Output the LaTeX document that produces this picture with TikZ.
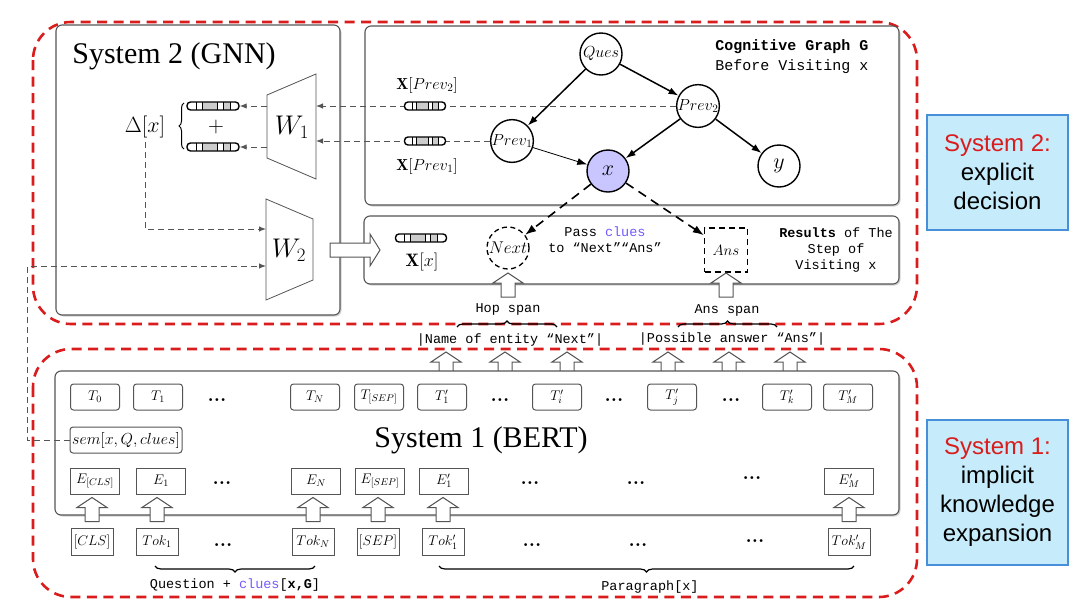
\RequirePackage{fix-cm}
\documentclass[tikz,border=0pt]{standalone}
\usepackage{fontspec}
\setsansfont{Liberation Sans}
\setmonofont{Liberation Mono}
\newfontfamily\titlefont{Liberation Serif}
\usetikzlibrary{positioning,calc,shadows,arrows.meta,decorations.pathreplacing}

\definecolor{sysred}{RGB}{218,28,28}
\definecolor{cluecol}{RGB}{118,88,255}
\definecolor{xfill}{RGB}{201,197,255}
\definecolor{tagfill}{RGB}{198,236,251}
\definecolor{tagline}{RGB}{72,143,218}
\definecolor{frame}{RGB}{85,85,85}

\newcommand{\fsz}[1]{\fontsize{#1}{#1}\selectfont}

\tikzset{
  sysbox/.style={draw=sysred, line width=2.6pt, dash pattern=on 10pt off 6.5pt, rounded corners=38pt},
  panel/.style={draw=frame, line width=1.1pt, fill=white, rounded corners=6pt,
    drop shadow={opacity=0.35, shadow xshift=1.5pt, shadow yshift=-1.5pt}},
  title/.style={font=\fsz{30}\titlefont},
  gnode/.style={circle, draw, line width=1.4pt, fill=white, minimum size=42pt, inner sep=0pt, font=\fsz{16}},
  tbox/.style={draw=frame, line width=1pt, rounded corners=3pt, fill=white, minimum width=49pt, minimum height=26pt, inner sep=0pt, font=\fsz{14}},
  ebox/.style={tbox, sharp corners},
  tokbox/.style={draw=frame, line width=1pt, fill=white, minimum width=42pt, minimum height=27pt, inner sep=0pt, font=\fsz{14}},
  dotsn/.style={inner sep=0pt, font=\fsz{20}\bfseries},
  mono/.style={font=\fsz{13.5}\ttfamily},
  tag/.style={draw=tagline, line width=2pt, fill=tagfill, minimum width=141pt, align=center, font=\fontsize{24}{29}\selectfont\sffamily},
  feed/.style={draw=frame, line width=1pt, dash pattern=on 6pt off 4pt, -{Latex[length=7pt,width=5.5pt]}},
  edge/.style={line width=1.5pt, -{Latex[length=10pt,width=7pt]}},
  hop/.style={line width=1.6pt, dash pattern=on 9pt off 6pt, -{Latex[length=11pt,width=8pt]}},
  fat/.style={draw=frame, line width=1pt, fill=white},
  vec/.style={draw, line width=1.4pt, rounded corners=3.5pt, fill=white,
    minimum width=#1, minimum height=8pt, inner sep=0pt,
    path picture={
      \foreach \a/\b in {0.29/0.58,0.69/0.83}
        \fill[gray!40, sharp corners] ($(path picture bounding box.south west)!\a!(path picture bounding box.south east)$) rectangle ($(path picture bounding box.north west)!\b!(path picture bounding box.north east)$);
      \foreach \f in {0.18,0.29,0.58,0.69,0.83}
        \draw[line width=0.7pt, sharp corners] ($(path picture bounding box.south west)!\f!(path picture bounding box.south east)$) -- ($(path picture bounding box.north west)!\f!(path picture bounding box.north east)$);
    }},
  pics/upfat/.style={code={
    \draw[fat] (-7,0) -- (-7,-14) -- (-15,-14) -- (0,-24) -- (15,-14) -- (7,-14) -- (7,0) -- cycle;
  }}
}

\begin{document}
\begin{tikzpicture}[x=1pt, y=-1pt, line width=1pt]
\useasboundingbox (0,0) rectangle (1080,611);

% the two systems
\draw[sysbox] (33,22) rectangle (917,324);
\draw[sysbox] (33,349) rectangle (917,597);

% System 2 (GNN)
\draw[panel] (56,25) rectangle (340,315);
\node[title] (gnntitle) at (174,56) {System 2 (GNN)};
\draw[draw=frame, line width=0.8pt] (267,95) -- (316,74) -- (316,179) -- (267,158) -- cycle;
\node[font=\fsz{27}] (wone) at (292,127) {$W_1$};
\draw[draw=frame, line width=0.8pt] (266,199) -- (313,219) -- (313,280) -- (266,300) -- cycle;
\node[font=\fsz{27}] (wtwo) at (289,250) {$W_2$};
\coordinate (wonel) at (267,127);
\coordinate (woner) at (316,127);
\coordinate (wtwol) at (266,250);
\node[vec=52pt] (bartop) at (213,106) {};
\node[vec=52pt] (barbot) at (213,147) {};
\node[font=\fsz{22}] (plus) at (216,127) {$+$};
\node[font=\fsz{22}] (delta) at (145,127) {$\Delta[x]$};
\draw[decorate, decoration={brace, amplitude=5pt}, line width=1pt] (184,149) -- (184,103);
\draw[feed] (wonel |- bartop) -- (bartop.east);
\draw[feed] (wonel |- barbot) -- (barbot.east);
\coordinate (dturn) at (145,229);
\draw[feed] (delta.south) -- (dturn) -- (dturn -| wtwol);

% cognitive graph before visiting x
\draw[panel] (365,26) rectangle (899,205);
\node[align=center, font=\fontsize{15}{20}\selectfont\ttfamily] (gtitle) at (792,57) {\textbf{Cognitive Graph G}\\Before Visiting x};
\node[gnode] (ques) at (601,54) {$Ques$};
\node[gnode] (prevtwo) at (698,106) {$Prev_2$};
\node[gnode] (prevone) at (512,141) {$Prev_1$};
\node[gnode, fill=xfill, font=\fsz{22}] (xn) at (608,171) {$x$};
\node[gnode, font=\fsz{22}] (yn) at (779,166) {$y$};
\draw[edge] (ques) -- (prevone);
\draw[edge] (ques) -- (prevtwo);
\draw[edge] (prevtwo) -- (xn);
\draw[edge] (prevtwo) -- (yn);
\draw[edge, line width=0.8pt] (prevone) -- (xn);
\draw[feed] (prevtwo.west) -- (prevtwo.west -| woner);
\draw[feed] (prevone.west) -- (prevone.west -| woner);
\node[vec=41pt] (vprevtwo) at (425,106) {};
\node[vec=41pt] (vprevone) at (425,141) {};
\node[font=\fsz{16}] (lprevtwo) at (427,85) {$\mathbf{X}[Prev_2]$};
\node[font=\fsz{16}] (lprevone) at (427,166) {$\mathbf{X}[Prev_1]$};

% results of the step of visiting x
\draw[panel] (364,216) rectangle (899,284);
\node[vec=51pt] (vx) at (421,238) {};
\node[font=\fsz{18}] (lvx) at (422,262) {$\mathbf{X}[x]$};
\node[gnode, dash pattern=on 5pt off 3.5pt, line width=1.3pt, font=\fsz{17}] (nxt) at (508,248) {$Next$};
\node[draw, line width=1.4pt, dash pattern=on 6pt off 4pt, minimum width=43pt, minimum height=44pt, font=\fsz{15}] (ans) at (726,250) {$Ans$};
\node[align=center, font=\fontsize{13.5}{16}\selectfont\ttfamily] (pass) at (605,240) {Pass \textcolor{cluecol}{clues}\\to “Next”“Ans”};
\node[align=center, font=\fontsize{13.5}{16}\selectfont\ttfamily] (result) at (836,250) {\textbf{Results} of The\\Step of\\Visiting x};
\draw[hop] (xn) -- (nxt);
\draw[hop] (xn) -- (ans);
\draw[fat] (330,243) -- (370,243) -- (370,234) -- (380,250) -- (370,266) -- (370,257) -- (330,257) -- cycle;

% spans
\pic at (508,297) {upfat};
\pic at (726,297) {upfat};
\node[mono] (hopspan) at (508,309) {Hop span};
\node[mono] (ansspan) at (727,310) {Ans span};
\draw[decorate, decoration={brace, amplitude=6pt}, line width=1.2pt] (457,327) -- (557,327);
\draw[decorate, decoration={brace, amplitude=6pt}, line width=1.2pt] (678,327) -- (777,327);
\node[mono] (nextname) at (510,340) {|Name of entity “Next”|};
\node[mono] (ansname) at (732,339) {|Possible answer “Ans”|};
\foreach \px in {446,505,567,668,729,790}
  \pic at (\px,376) {upfat};

% System 1 (BERT)
\draw[panel] (55,371) rectangle (899,515);
\node[title] (berttitle) at (481,440) {System 1 (BERT)};
\foreach \nm/\lab/\px in {tzero/T_0/95, tone/T_1/158, tn/T_N/315, tsep/T_{[SEP]}/379, tpone/T'_1/442, tpi/T'_i/557, tpj/T'_j/672, tpk/T'_k/787, tpm/T'_M/848}
  \node[tbox] (\nm) at (\px,397) {$\lab$};
\foreach \nm/\lab/\px in {ecls/E_{[CLS]}/95, eone/E_1/161, en/E_N/316, esep/E_{[SEP]}/380, epone/E'_1/444, epm/E'_M/849}
  \node[ebox] (\nm) at (\px,481) {$\lab$};
\foreach \nm/\lab/\px in {kcls/[CLS]/92, kone/Tok_1/157, kn/Tok_N/313, ksep/[SEP]/378, kpone/Tok'_1/443, kpm/Tok'_M/849}
  \node[tokbox] (\nm) at (\px,542) {$\lab$};
\foreach \nm in {kcls,kone,kn,ksep,kpone,kpm}
  \pic at ([yshift=6.5pt]\nm.north) {upfat};
\foreach \px/\py [count=\i] in {217/400,500/400,614/400,731/400,222/483,530/483,636/483,752/478,223/545,532/545,638/545,755/541}
  \node[dotsn] (dot\i) at (\px,\py) {...};
\node[tbox, minimum width=112pt, font=\fsz{16}] (sem) at (126,440) {$sem[x,Q,clues]$};
\coordinate (semturn) at (27,266);
\draw[feed] (sem.west) -| (semturn) -- (semturn -| wtwol);
\draw[decorate, decoration={brace, amplitude=6pt}, line width=1.2pt] (315,566) -- (155,566);
\node[mono] (qlabel) at (235,585) {Question + \textcolor{cluecol}{clues}[\textbf{x,G}]};
\draw[decorate, decoration={brace, amplitude=6pt}, line width=1.2pt] (854,566) -- (439,566);
\node[mono] (plabel) at (650,587) {Paragraph[x]};

% side notes
\node[tag, minimum height=115pt] (tagtwo) at (997.5,172.5) {\textcolor{sysred}{System 2:}\\explicit\\decision};
\node[tag, minimum height=145pt] (tagone) at (997.5,492.5) {\textcolor{sysred}{System 1:}\\implicit\\knowledge\\expansion};
\end{tikzpicture}
\end{document}
